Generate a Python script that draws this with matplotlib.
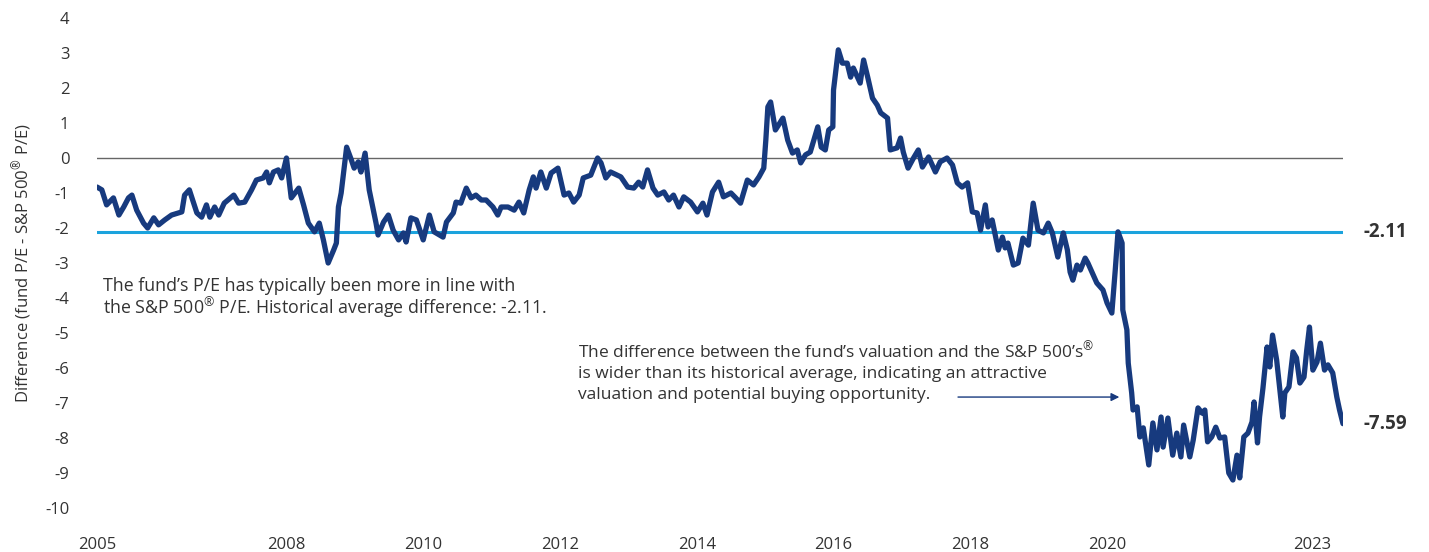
import matplotlib
matplotlib.use('Agg')
import matplotlib.pyplot as plt

plt.rcParams['font.family'] = ['Open Sans', 'DejaVu Sans']
plt.rcParams['mathtext.fontset'] = 'custom'
plt.rcParams['mathtext.rm'] = 'Open Sans'
plt.rcParams['mathtext.it'] = 'Open Sans:italic'
plt.rcParams['mathtext.bf'] = 'Open Sans:bold'

# P/E difference (decimal year, fund P/E - S&P 500 P/E)
years = [
    2005.23, 2005.30, 2005.37, 2005.47, 2005.55, 2005.62, 2005.69, 2005.74, 2005.81, 2005.91,
    2005.97, 2006.06, 2006.13, 2006.22, 2006.32, 2006.47, 2006.51, 2006.58, 2006.69, 2006.76,
    2006.83, 2006.88, 2006.95, 2007.01, 2007.09, 2007.23, 2007.30, 2007.39, 2007.49, 2007.56,
    2007.66, 2007.71, 2007.75, 2007.81, 2007.88, 2007.93, 2008.00, 2008.07, 2008.18, 2008.25,
    2008.32, 2008.41, 2008.48, 2008.54, 2008.61, 2008.69, 2008.73, 2008.76, 2008.80, 2008.88,
    2008.95, 2008.99, 2009.05, 2009.09, 2009.15, 2009.21, 2009.31, 2009.34, 2009.42, 2009.49,
    2009.56, 2009.64, 2009.71, 2009.75, 2009.82, 2009.90, 2010.00, 2010.09, 2010.16, 2010.29,
    2010.34, 2010.44, 2010.48, 2010.55, 2010.63, 2010.70, 2010.77, 2010.85, 2010.92, 2011.02,
    2011.09, 2011.14, 2011.24, 2011.33, 2011.40, 2011.47, 2011.55, 2011.61, 2011.65, 2011.72,
    2011.80, 2011.87, 2011.97, 2012.06, 2012.13, 2012.20, 2012.28, 2012.34, 2012.45, 2012.55,
    2012.60, 2012.67, 2012.74, 2012.89, 2012.99, 2013.08, 2013.15, 2013.21, 2013.28, 2013.36,
    2013.43, 2013.52, 2013.59, 2013.66, 2013.74, 2013.81, 2013.91, 2014.01, 2014.09, 2014.15,
    2014.23, 2014.32, 2014.39, 2014.50, 2014.57, 2014.64, 2014.74, 2014.83, 2014.91, 2014.98,
    2015.01, 2015.04, 2015.08, 2015.15, 2015.26, 2015.33, 2015.40, 2015.47, 2015.52, 2015.59,
    2015.66, 2015.77, 2015.82, 2015.88, 2015.93, 2015.99, 2016.00, 2016.07, 2016.13, 2016.20,
    2016.25, 2016.29, 2016.35, 2016.39, 2016.44, 2016.50, 2016.57, 2016.64, 2016.69, 2016.79,
    2016.83, 2016.93, 2016.98, 2017.02, 2017.09, 2017.17, 2017.24, 2017.30, 2017.39, 2017.49,
    2017.56, 2017.66, 2017.74, 2017.81, 2017.88, 2017.96, 2018.03, 2018.10, 2018.15, 2018.22,
    2018.26, 2018.32, 2018.41, 2018.47, 2018.51, 2018.55, 2018.63, 2018.70, 2018.77, 2018.85,
    2018.92, 2018.99, 2019.07, 2019.14, 2019.20, 2019.28, 2019.36, 2019.42, 2019.46, 2019.50,
    2019.56, 2019.61, 2019.68, 2019.72, 2019.85, 2019.94, 2020.00, 2020.07, 2020.12, 2020.16,
    2020.22, 2020.23, 2020.29, 2020.31, 2020.36, 2020.38, 2020.44, 2020.48, 2020.53, 2020.61,
    2020.67, 2020.73, 2020.79, 2020.82, 2020.89, 2020.96, 2021.02, 2021.08, 2021.12, 2021.21,
    2021.26, 2021.33, 2021.39, 2021.43, 2021.47, 2021.53, 2021.59, 2021.65, 2021.72, 2021.78,
    2021.84, 2021.90, 2021.94, 2022.00, 2022.06, 2022.12, 2022.15, 2022.20, 2022.23, 2022.28,
    2022.34, 2022.38, 2022.42, 2022.48, 2022.57, 2022.60, 2022.66, 2022.72, 2022.77, 2022.82,
    2022.88, 2022.92, 2022.96, 2023.01, 2023.07, 2023.12, 2023.18, 2023.23, 2023.30, 2023.36,
    2023.40, 2023.45,
]
pe_diff = [
    -0.83, -0.91, -1.34, -1.14, -1.63, -1.40, -1.14, -1.06, -1.49, -1.86,
    -2.00, -1.71, -1.91, -1.77, -1.63, -1.54, -1.06, -0.91, -1.57, -1.69,
    -1.34, -1.69, -1.40, -1.63, -1.29, -1.06, -1.29, -1.26, -0.91, -0.63,
    -0.57, -0.40, -0.71, -0.40, -0.34, -0.57, 0.00, -1.14, -0.86, -1.34,
    -1.86, -2.11, -1.86, -2.34, -3.00, -2.63, -2.43, -1.40, -1.00, 0.31,
    -0.06, -0.29, -0.11, -0.40, 0.14, -0.91, -1.86, -2.20, -1.83, -1.63,
    -2.06, -2.34, -2.14, -2.40, -1.71, -1.77, -2.34, -1.63, -2.11, -2.26,
    -1.83, -1.57, -1.26, -1.29, -0.86, -1.14, -1.06, -1.20, -1.20, -1.40,
    -1.63, -1.40, -1.40, -1.49, -1.26, -1.57, -0.91, -0.54, -0.86, -0.40,
    -0.86, -0.43, -0.29, -1.06, -1.00, -1.26, -1.06, -0.57, -0.49, 0.00,
    -0.14, -0.57, -0.40, -0.54, -0.83, -0.86, -0.69, -0.83, -0.34, -0.86,
    -1.06, -0.97, -1.20, -1.06, -1.40, -1.11, -1.26, -1.54, -1.29, -1.63,
    -0.97, -0.69, -1.11, -1.00, -1.14, -1.29, -0.63, -0.77, -0.54, -0.29,
    0.51, 1.46, 1.60, 0.80, 1.14, 0.51, 0.14, 0.23, -0.14, 0.09,
    0.17, 0.89, 0.31, 0.23, 0.80, 0.89, 1.94, 3.09, 2.71, 2.71,
    2.31, 2.57, 2.31, 2.14, 2.80, 2.31, 1.71, 1.51, 1.29, 1.14,
    0.23, 0.29, 0.57, 0.17, -0.29, 0.00, 0.23, -0.26, 0.03, -0.40,
    -0.11, 0.00, -0.20, -0.71, -0.83, -0.71, -1.54, -1.57, -2.06, -1.34,
    -1.97, -1.77, -2.63, -2.26, -2.57, -2.43, -3.06, -3.00, -2.29, -2.49,
    -1.29, -2.06, -2.14, -1.86, -2.14, -2.83, -2.14, -2.63, -3.26, -3.49,
    -3.06, -3.20, -2.86, -3.00, -3.57, -3.77, -4.14, -4.43, -3.20, -2.11,
    -2.43, -4.34, -4.91, -5.86, -6.71, -7.20, -7.11, -7.97, -7.71, -8.77,
    -7.57, -8.34, -7.40, -8.26, -7.43, -8.49, -7.86, -8.54, -7.63, -8.54,
    -8.06, -7.14, -7.29, -7.20, -8.11, -7.97, -7.69, -8.00, -7.97, -9.00,
    -9.20, -8.49, -9.14, -7.97, -7.86, -7.54, -6.97, -8.14, -7.40, -6.57,
    -5.40, -5.97, -5.06, -5.77, -7.40, -6.71, -6.54, -5.54, -5.71, -6.43,
    -6.26, -5.49, -4.83, -6.06, -5.83, -5.29, -6.06, -5.91, -6.14, -6.83,
    -7.20, -7.59,
]
hist_avg = -2.11
y_ticks = list(range(-10, 5))
x_tick_pos = [years[0], 2008, 2010, 2012, 2014, 2016, 2018, 2020, 2023]
x_tick_labels = ['2005', '2008', '2010', '2012', '2014', '2016', '2018', '2020', '2023']

navy = '#173a7e'
cyan = '#1ba3dd'
txt = '#333333'

fig = plt.figure(figsize=(14.29, 5.52), dpi=100)
ax = fig.add_axes([0.0679, 0.0797, 0.8719, 0.8877])

ax.axhline(0, color='#666666', lw=1.0, zorder=1)
ax.axhline(hist_avg, color=cyan, lw=2.2, zorder=2)
ax.plot(years, pe_diff, color=navy, lw=3.8, solid_joinstyle='round', solid_capstyle='round', zorder=3)

ax.set_xlim(years[0], years[-1])
ax.set_ylim(-10, 4)
ax.set_yticks(y_ticks)
ax.set_yticklabels([str(t) for t in y_ticks])
ax.set_xticks(x_tick_pos)
ax.set_xticklabels(x_tick_labels)
ax.tick_params(axis='y', length=0, pad=20, labelsize=12, labelcolor=txt)
ax.tick_params(axis='x', length=0, pad=21, labelsize=12, labelcolor=txt)
for s in ax.spines.values():
    s.set_visible(False)

ax.set_ylabel('Difference (fund P/E - S&P 500$^{®}$ P/E)', fontsize=12, color=txt, labelpad=8)

# end labels
ax.annotate(f'{hist_avg:.2f}', xy=(1.0, hist_avg), xycoords=('axes fraction', 'data'),
            xytext=(15, 0), textcoords='offset points', va='center', ha='left',
            fontsize=13.5, fontweight='bold', color=txt)
ax.annotate(f'{pe_diff[-1]:.2f}', xy=(1.0, pe_diff[-1]), xycoords=('axes fraction', 'data'),
            xytext=(15, 0), textcoords='offset points', va='center', ha='left',
            fontsize=13.5, fontweight='bold', color=txt)

ax.text(2005.32, -4.02,
        'The fund\u2019s P/E has typically been more in line with\n'
        'the S&P 500$^{®}$ P/E. Historical average difference: -2.11.',
        fontsize=12.8, color=txt, ha='left', va='center', linespacing=1.05)

ax.text(2012.27, -6.1,
        'The difference between the fund\u2019s valuation and the S&P 500\u2019s$^{®}$\n'
        'is wider than its historical average, indicating an attractive\n'
        'valuation and potential buying opportunity.',
        fontsize=12.5, color=txt, ha='left', va='center', linespacing=1.4)

ax.annotate('', xy=(2020.22, -6.83), xytext=(2017.78, -6.83),
            arrowprops=dict(arrowstyle='-|>', color=navy, lw=1.0, mutation_scale=12))

fig.savefig('out.png', dpi=100)
